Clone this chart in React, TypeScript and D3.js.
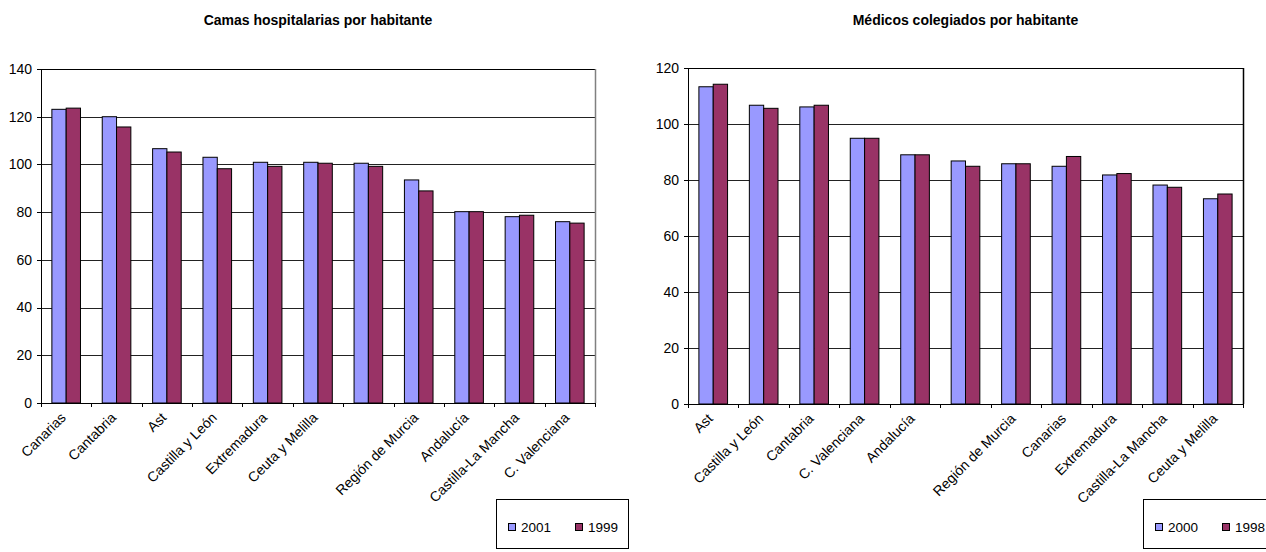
import React from "react";
import * as d3 from "d3";

const camasCategories = ["Canarias", "Cantabria", "Ast", "Castilla y León", "Extremadura", "Ceuta y Melilla", "", "Región de Murcia", "Andalucía", "Castilla-La Mancha", "C. Valenciana"];
const camas2001 = [123.1, 120.0, 106.6, 103.0, 100.9, 100.9, 100.5, 93.5, 80.2, 78.1, 76.0];
const camas1999 = [123.6, 115.7, 105.2, 98.2, 99.2, 100.5, 99.2, 88.9, 80.2, 78.7, 75.4];
const camasTicks = [0, 20, 40, 60, 80, 100, 120, 140];

const medicosCategories = ["Ast", "Castilla y León", "Cantabria", "C. Valenciana", "Andalucía", "", "Región de Murcia", "Canarias", "Extremadura", "Castilla-La Mancha", "Ceuta y Melilla"];
const medicos2000 = [113.3, 106.7, 106.1, 94.9, 89.0, 86.8, 85.8, 84.9, 81.8, 78.2, 73.3];
const medicos1998 = [114.2, 105.6, 106.7, 94.9, 89.0, 84.9, 85.8, 88.4, 82.3, 77.4, 75.0];
const medicosTicks = [0, 20, 40, 60, 80, 100, 120];

const COLOR_A = "#9999FF";
const COLOR_B = "#993366";
const FONT = "Arial, 'Liberation Sans', sans-serif";

type ChartProps = {
  title: string;
  categories: string[];
  seriesA: number[];
  seriesB: number[];
  nameA: string;
  nameB: string;
  ticks: number[];
  left: number;
  right: number;
  top: number;
  bottom: number;
  rightBorder: string;
  legendX: number;
  legendW: number;
};

function Chart(p: ChartProps) {
  const idx = p.categories.map((_, i) => String(i));
  const x = d3.scaleBand<string>().domain(idx).range([p.left, p.right]);
  const maxT = p.ticks[p.ticks.length - 1];
  const y = d3.scaleLinear().domain([0, maxT]).range([p.bottom, p.top]);
  const bw = x.bandwidth();
  const barW = bw * 0.284;
  const cx = (p.left + p.right) / 2;
  const boundaries = d3.range(p.categories.length + 1).map((i) => p.left + i * bw);
  return (
    <g>
      <text x={cx} y={25} textAnchor="middle" fontFamily={FONT} fontWeight="bold" fontSize={14}>
        {p.title}
      </text>
      {p.ticks.map((t) => (
        <g key={t}>
          {t > 0 && t < maxT && (
            <line x1={p.left} x2={p.right} y1={Math.round(y(t)) + 0.5} y2={Math.round(y(t)) + 0.5} stroke="#222" strokeWidth={1} />
          )}
          <line x1={p.left - 4} x2={p.left} y1={Math.round(y(t)) + 0.5} y2={Math.round(y(t)) + 0.5} stroke="#000" />
          <text x={p.left - 9} y={y(t)} dy="0.35em" textAnchor="end" fontFamily={FONT} fontSize={14}>
            {t}
          </text>
        </g>
      ))}
      {p.categories.map((c, i) => {
        const x0 = x(String(i))! + (bw - 2 * barW) / 2;
        return (
          <g key={i}>
            <rect x={x0} y={y(p.seriesA[i])} width={barW} height={p.bottom - y(p.seriesA[i])} fill={COLOR_A} stroke="#000" strokeWidth={1} />
            <rect x={x0 + barW} y={y(p.seriesB[i])} width={barW} height={p.bottom - y(p.seriesB[i])} fill={COLOR_B} stroke="#000" strokeWidth={1} />
          </g>
        );
      })}
      <line x1={p.left} x2={p.right} y1={Math.round(y(maxT)) + 0.5} y2={Math.round(y(maxT)) + 0.5} stroke="#000" />
      <line x1={Math.round(p.right) + 0.5} x2={Math.round(p.right) + 0.5} y1={p.top} y2={p.bottom} stroke={p.rightBorder} strokeWidth={1.5} />
      <line x1={Math.round(p.left) + 0.5} x2={Math.round(p.left) + 0.5} y1={p.top} y2={p.bottom + 4} stroke="#000" />
      <line x1={p.left - 4} x2={p.right} y1={Math.round(p.bottom) + 0.5} y2={Math.round(p.bottom) + 0.5} stroke="#000" />
      {boundaries.map((b, i) => (
        <line key={i} x1={Math.round(b) + 0.5} x2={Math.round(b) + 0.5} y1={p.bottom} y2={p.bottom + 4} stroke="#000" />
      ))}
      {p.categories.map((c, i) => {
        const px = x(String(i))! + bw / 2 - 3;
        const py = p.bottom + 12;
        return (
          <text key={i} transform={`translate(${px},${py}) rotate(-45)`} textAnchor="end" dy="0.35em" fontFamily={FONT} fontSize={14}>
            {c}
          </text>
        );
      })}
      <rect x={p.legendX + 0.5} y={499.5} width={p.legendW} height={49} fill="none" stroke="#000" strokeWidth={1} />
      <rect x={p.legendX + 12.5} y={523.5} width={7} height={7} fill={COLOR_A} stroke="#000" />
      <text x={p.legendX + 25} y={527} dy="0.35em" fontFamily={FONT} fontSize={13.5}>{p.nameA}</text>
      <rect x={p.legendX + 79.5} y={523.5} width={7} height={7} fill={COLOR_B} stroke="#000" />
      <text x={p.legendX + 92} y={527} dy="0.35em" fontFamily={FONT} fontSize={13.5}>{p.nameB}</text>
    </g>
  );
}

export default function App() {
  return (
    <svg width={1266} height={552} style={{ position: "absolute", left: 0, top: 0, background: "#fff" }}>
      <rect width={1266} height={552} fill="#fff" />
      <Chart
        title="Camas hospitalarias por habitante"
        categories={camasCategories}
        seriesA={camas2001}
        seriesB={camas1999}
        nameA="2001"
        nameB="1999"
        ticks={camasTicks}
        left={41}
        right={595}
        top={69}
        bottom={403}
        rightBorder="#808080"
        legendX={496}
        legendW={132}
      />
      <Chart
        title="Médicos colegiados por habitante"
        categories={medicosCategories}
        seriesA={medicos2000}
        seriesB={medicos1998}
        nameA="2000"
        nameB="1998"
        ticks={medicosTicks}
        left={688}
        right={1243}
        top={68}
        bottom={404}
        rightBorder="#000"
        legendX={1143}
        legendW={140}
      />
    </svg>
  );
}
